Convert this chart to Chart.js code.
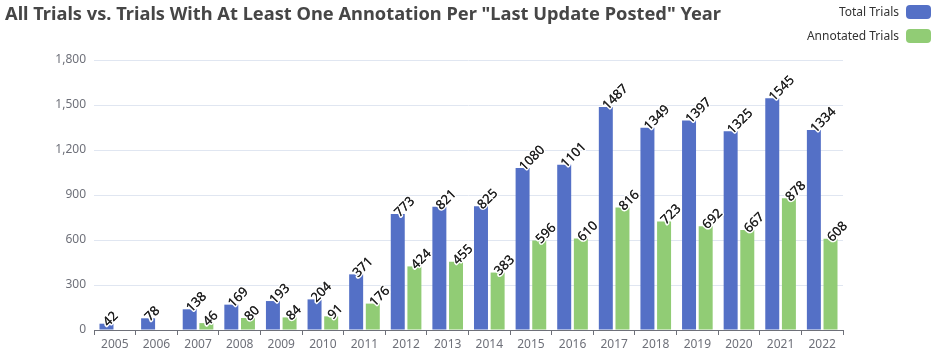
<!DOCTYPE html>
<html>
<head>
<meta charset="utf-8">
<script src="https://cdn.jsdelivr.net/npm/chart.js@4.4.0/dist/chart.umd.min.js"></script>
<style>
  body { margin: 0; background: #fff; font-family: "Noto Sans", sans-serif; }
  #wrap { position: relative; width: 936px; height: 362px; }
  #title { position: absolute; left: 5px; top: 0px; font-size: 18.25px; font-weight: bold; color: #464646; white-space: nowrap; }
  .leg { position: absolute; right: 5px; font-size: 12px; color: #333; display: flex; align-items: center; }
  .leg span.box { display: inline-block; width: 25px; height: 14px; border-radius: 4px; margin-left: 7px; }
</style>
</head>
<body>
<div id="wrap">
  <canvas id="chart" width="936" height="362"></canvas>
  <div id="title">All Trials vs. Trials With At Least One Annotation Per "Last Update Posted" Year</div>
  <div class="leg" style="top:3px">Total Trials<span class="box" style="background:#5470c6"></span></div>
  <div class="leg" style="top:27px">Annotated Trials<span class="box" style="background:#91cc75"></span></div>
</div>
<script>
// Categories and series
const years = ['2005', '2006', '2007', '2008', '2009', '2010', '2011', '2012', '2013',
  '2014', '2015', '2016', '2017', '2018', '2019', '2020', '2021', '2022'];
const totalTrials = [42, 78, 138, 169, 193, 204, 371, 773, 821, 825, 1080, 1101, 1487, 1349, 1397, 1325, 1545, 1334];
const annotatedTrials = [null, null, 46, 80, 84, 91, 176, 424, 455, 383, 596, 610, 816, 723, 692, 667, 878, 608];
const yTicks = [0, 300, 600, 900, 1200, 1500, 1800];

// Rotated value labels on top of each bar
const barLabels = {
  id: 'barLabels',
  afterDatasetsDraw(chart) {
    const ctx = chart.ctx;
    ctx.save();
    ctx.font = '13px "Noto Sans", sans-serif';
    ctx.textAlign = 'left';
    ctx.textBaseline = 'middle';
    ctx.lineJoin = 'round';
    chart.data.datasets.forEach((ds, i) => {
      chart.getDatasetMeta(i).data.forEach((bar, j) => {
        const v = ds.data[j];
        if (v == null) return;
        ctx.save();
        ctx.translate(bar.x - 1, bar.y + 1);
        ctx.rotate(-Math.PI / 4);
        ctx.strokeStyle = '#fff';
        ctx.lineWidth = 3;
        ctx.strokeText(String(v), 0, 0);
        ctx.fillStyle = '#222';
        ctx.fillText(String(v), 0, 0);
        ctx.fillText(String(v), 0.3, 0);
        ctx.restore();
      });
    });
    ctx.restore();
  }
};

const ctx = document.getElementById('chart').getContext('2d');
new Chart(ctx, {
  type: 'bar',
  data: {
    labels: years,
    datasets: [{
      label: 'Total Trials',
      data: totalTrials,
      backgroundColor: '#5470c6',
      categoryPercentage: 0.8,
      barPercentage: 0.84
    }, {
      label: 'Annotated Trials',
      data: annotatedTrials,
      backgroundColor: '#91cc75',
      categoryPercentage: 0.8,
      barPercentage: 0.84
    }]
  },
  options: {
    responsive: false,
    animation: false,
    layout: { padding: { top: 60, right: 93, left: 0, bottom: 0 } },
    scales: {
      x: {
        afterFit: s => { s.height = 32; },
        grid: { display: true, drawOnChartArea: false, offset: true, tickLength: 5, color: '#6e7079' },
        border: { color: '#6e7079' },
        ticks: { color: '#6e7079', font: { size: 12, family: '"Noto Sans", sans-serif' }, padding: 2 }
      },
      y: {
        min: 0,
        max: 1800,
        afterFit: s => { s.width = 94; },
        afterBuildTicks: s => { s.ticks = yTicks.map(v => ({ value: v })); },
        grid: { color: '#e0e6f1', drawTicks: false },
        border: { display: false },
        ticks: {
          color: '#6e7079',
          padding: 8,
          font: { size: 12, family: '"Noto Sans", sans-serif' },
          callback: v => v.toLocaleString('en-US')
        }
      }
    },
    plugins: {
      legend: { display: false },
      tooltip: { enabled: false }
    }
  },
  plugins: [barLabels]
});
</script>
</body>
</html>
